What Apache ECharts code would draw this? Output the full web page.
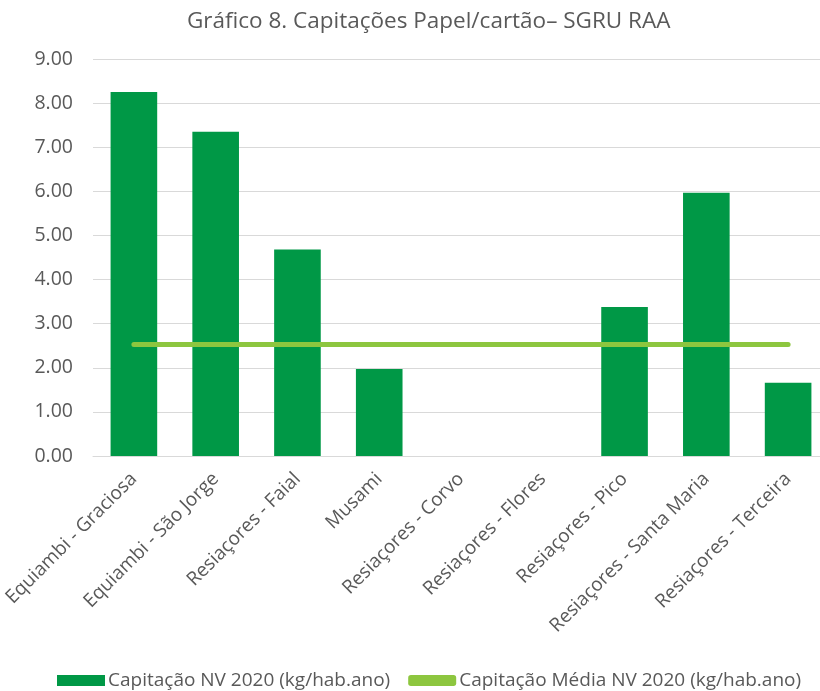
<!DOCTYPE html>
<html>
<head>
<meta charset="utf-8">
<script src="https://cdn.jsdelivr.net/npm/echarts@6/dist/echarts.min.js"></script>
<style>
  html, body { margin: 0; padding: 0; background: #fff; }
  #chart { width: 820px; height: 691px; }
</style>
</head>
<body>
<div id="chart"></div>
<script>
const categories = [
  'Equiambi - Graciosa', 'Equiambi - São Jorge', 'Resiaçores - Faial', 'Musami',
  'Resiaçores - Corvo', 'Resiaçores - Flores', 'Resiaçores - Pico',
  'Resiaçores - Santa Maria', 'Resiaçores - Terceira'
]
const capitacao = [8.25, 7.35, 4.68, 1.97, 0, 0, 3.38, 5.97, 1.66]
const media = [2.53, 2.53, 2.53, 2.53, 2.53, 2.53, 2.53, 2.53, 2.53]

const font = 'Open Sans'
const grey = '#595959'

const chart = echarts.init(document.getElementById('chart'), null, { renderer: 'canvas' })
chart.setOption({
  animation: false,
  title: {
    text: 'Gráfico 8. Capitações Papel/cartão– SGRU RAA',
    left: 182,
    top: 5,
    textStyle: { fontFamily: font, fontSize: 22.5, fontWeight: 'normal', color: grey }
  },
  legend: {
    top: 666,
    left: 52,
    itemGap: 18,
    itemWidth: 48,
    itemHeight: 11,
    textStyle: { fontFamily: font, fontSize: 19, color: grey, padding: [0, 0, 0, -2] },
    data: [
      { name: 'Capitação NV 2020 (kg/hab.ano)', icon: 'rect' },
      { name: 'Capitação Média NV 2020 (kg/hab.ano)', icon: 'roundRect', itemStyle: { color: '#8dc63f' } }
    ]
  },
  grid: { left: 93, width: 736, top: 59, height: 397, outerBoundsMode: 'none', containLabel: false },
  xAxis: {
    type: 'category',
    data: categories,
    axisLine: { lineStyle: { color: '#d9d9d9' } },
    axisTick: { show: false },
    axisLabel: {
      rotate: 45,
      interval: 0,
      margin: 20,
      fontFamily: font,
      fontSize: 19,
      color: grey
    }
  },
  yAxis: {
    type: 'value',
    min: 0,
    max: 9,
    interval: 1,
    axisLine: { show: false },
    axisTick: { show: false },
    splitLine: { lineStyle: { color: '#d9d9d9' } },
    axisLabel: {
      formatter: v => v.toFixed(2),
      margin: 20,
      fontFamily: font,
      fontSize: 19.5,
      color: grey
    }
  },
  series: [
    {
      name: 'Capitação NV 2020 (kg/hab.ano)',
      type: 'bar',
      data: capitacao,
      barWidth: '57%',
      itemStyle: { color: '#009846' }
    },
    {
      name: 'Capitação Média NV 2020 (kg/hab.ano)',
      type: 'line',
      data: media,
      symbol: 'none',
      lineStyle: { color: '#8dc63f', width: 5, cap: 'round' },
      itemStyle: { color: '#8dc63f' }
    }
  ]
})
</script>
</body>
</html>
